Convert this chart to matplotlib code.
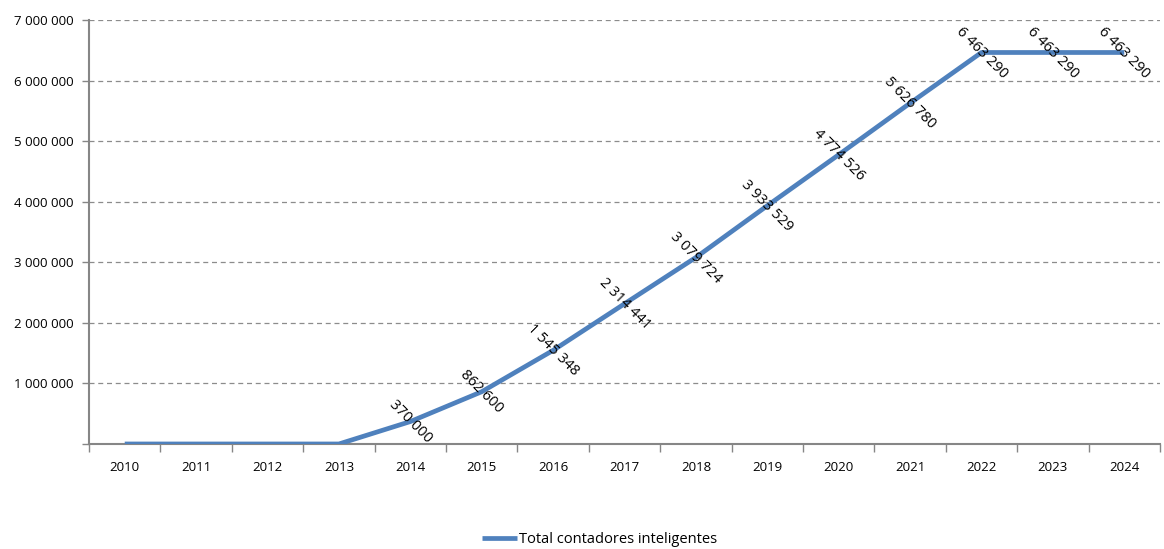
import matplotlib
matplotlib.use("Agg")
import matplotlib.pyplot as plt
import numpy as np
from matplotlib.ticker import FuncFormatter, FixedLocator

# datos
years = ["2010", "2011", "2012", "2013", "2014", "2015", "2016", "2017",
         "2018", "2019", "2020", "2021", "2022", "2023", "2024"]
totales = [0, 0, 0, 0, 370000, 862600, 1545348, 2314441, 3079724,
           3933529, 4774526, 5626780, 6463290, 6463290, 6463290]
serie = "Total contadores inteligentes"

plt.rcParams['font.family'] = ['Open Sans', 'DejaVu Sans']

def fmt(v):
    return "{:,}".format(int(v)).replace(",", " ")

fig = plt.figure(figsize=(11.64, 5.49), dpi=100)
ax = fig.add_axes([0.0765, 0.1913, 0.92, 0.7723])

x = np.arange(len(years))
ax.plot(x, totales, color="#4F81BD", lw=3.4, solid_capstyle="butt",
        label=serie, zorder=3)

# etiquetas de datos (no se etiquetan los ceros)
for xi, v in zip(x, totales):
    if v == 0:
        continue
    ax.text(xi, v, fmt(v), rotation=-45, rotation_mode="anchor",
            ha="center", va="center", fontsize=10.5, color="black", zorder=4)

ax.set_xlim(-0.5, len(years) - 0.5)
ax.set_ylim(0, 7000000)
ax.set_yticks(np.arange(0, 7000001, 1000000))
ax.yaxis.set_major_formatter(FuncFormatter(lambda v, p: "" if v == 0 else fmt(v)))
ax.yaxis.grid(True, linestyle=(0, (4, 3)), color="#8c8c8c", lw=0.9)
ax.set_axisbelow(True)

ax.set_xticks(x)
ax.set_xticklabels(years)
ax.xaxis.set_minor_locator(FixedLocator(np.arange(-0.5, len(years), 1.0)))
ax.tick_params(axis="x", which="major", length=0, pad=12, labelsize=9.5)
ax.tick_params(axis="x", which="minor", length=6, color="#868686", width=1)
ax.tick_params(axis="y", length=5, color="#868686", width=1, labelsize=9.5, pad=6)

for s in ["top", "right"]:
    ax.spines[s].set_visible(False)
for s in ["left", "bottom"]:
    ax.spines[s].set_color("#868686")
    ax.spines[s].set_linewidth(1.5)

fig.legend(loc="lower center", bbox_to_anchor=(0.515, -0.021), frameon=False,
           fontsize=10.5, handlelength=2.4, handletextpad=0.1)

fig.savefig("out.png", dpi=100)
